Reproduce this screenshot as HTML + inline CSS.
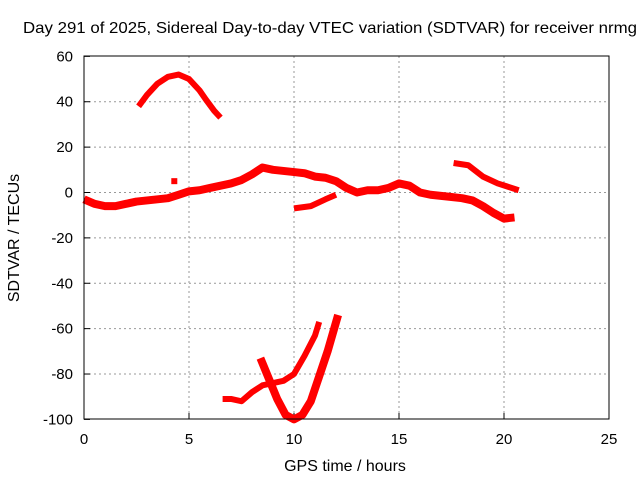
<!DOCTYPE html>
<html><head><meta charset="utf-8"><style>
body{margin:0;background:#fff}
svg{display:block;font-family:"Liberation Sans",sans-serif}
</style></head><body>
<svg id="chart" width="640" height="480">
<text x="330" y="33" font-size="16" text-anchor="middle" textLength="614" lengthAdjust="spacingAndGlyphs">Day 291 of 2025, Sidereal Day-to-day VTEC variation (SDTVAR) for receiver nrmg</text>
<text x="345" y="471" font-size="16" text-anchor="middle">GPS time / hours</text>
<text transform="translate(19,238) rotate(-90)" font-size="16" text-anchor="middle">SDTVAR / TECUs</text>
<g id="grid"></g><g id="series"></g>
<rect x="84" y="56" width="525" height="363" fill="none" stroke="#000"/>
</svg>
<script>
const xTicks=[0,5,10,15,20,25];
const yTicks=[60,40,20,0,-20,-40,-60,-80,-100];
const mainH=[0,0.5,1,1.5,2,2.5,3,3.5,4,4.5,5,5.5,6,6.5,7,7.5,8,8.5,9,9.5,10,10.5,11,11.5,12,12.5,13,13.5,14,14.5,15,15.5,16,16.5,17,17.5,18,18.5,19,19.5,20,20.5];
const mainV=[-3,-5,-6,-6,-5,-4,-3.5,-3,-2.5,-1,0.5,1,2,3,4,5.5,8,11,10,9.5,9,8.5,7,6.5,5,2,0,1,1,2,4,3,0,-1,-1.5,-2,-2.5,-3.5,-6,-9,-11.5,-11];
const lowH=[10,10.8,11.5,12];
const lowV=[-7,-6,-3,-1];
const rightH=[17.6,18.3,19,19.7,20.7];
const rightV=[13,12,7,4,1];
const archH=[2.6,3,3.5,4,4.5,5,5.5,5.8,6.2,6.5];
const archV=[38,43,48,51,52,50,45,41,36,33];
const botAH=[6.6,7,7.5,8,8.5,9,9.5,10,10.5,11,11.2];
const botAV=[-91,-91,-92,-88,-85,-84,-83,-80,-72,-63,-57];
const botBH=[8.4,8.8,9.2,9.6,10,10.4,10.8,11.2,11.6,12.1];
const botBV=[-73,-82,-91,-98,-100,-98,-92,-81,-70,-54];
const blobH=[4.3];const blobV=[5];
const NS="http://www.w3.org/2000/svg";
const X=h=>84+h*21, Y=v=>192.5-v*2.269;
const grid=document.getElementById('grid'), ser=document.getElementById('series');
function mk(t,a,p){const e=document.createElementNS(NS,t);for(const k in a)e.setAttribute(k,a[k]);p.appendChild(e);return e;}
xTicks.forEach(t=>{
 if(t>0&&t<25){const l=mk('line',{x1:X(t),x2:X(t),y1:56,y2:419,stroke:'#999','stroke-dasharray':'2,3'},grid);
 
 }
 const tx=mk('text',{x:X(t),y:444,'font-size':15,'text-anchor':'middle'},grid);tx.textContent=t;
 
 
 mk('line',{x1:X(t),x2:X(t),y1:419,y2:413,stroke:'#000'},grid);
});
yTicks.forEach(t=>{
 if(t<60&&t>-100){const l=mk('line',{x1:84,x2:609,y1:Y(t),y2:Y(t),stroke:'#999','stroke-dasharray':'2,3'},grid);
 
 }
 const tx=mk('text',{x:73,y:Y(t)+5,'font-size':15,'text-anchor':'end'},grid);tx.textContent=t;
 
 
 mk('line',{x1:84,x2:90,y1:Y(t),y2:Y(t),stroke:'#000'},grid);
});
function line(H,V,w,name){
 const p=mk('polyline',{points:H.map((h,i)=>X(h)+','+Y(V[i])).join(' '),fill:'none',stroke:'#f00','stroke-width':w,'stroke-linejoin':'round'},ser);
 
 
}
line(mainH,mainV,8,'series-main');
line(lowH,lowV,6,'series-low');
line(rightH,rightV,6,'series-right');
line(archH,archV,6,'series-arch');
line(botAH,botAV,6,'series-bottom-a');
line(botBH,botBV,8,'series-bottom-b');
blobH.forEach((h,i)=>{const r=mk('rect',{x:X(h)-3,y:Y(blobV[i])-3,width:6,height:6,fill:'#f00'},ser);
 
 });
</script>
</body></html>
